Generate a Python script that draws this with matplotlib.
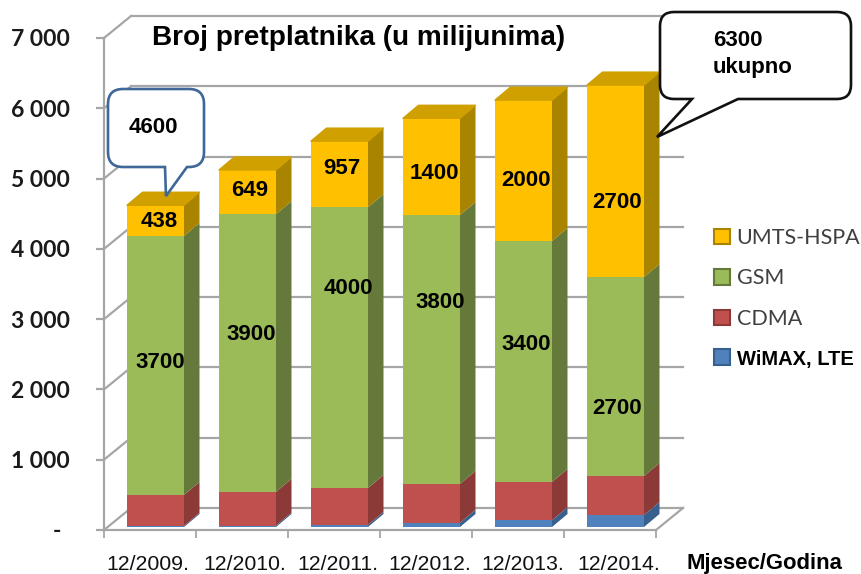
import numpy as np
import matplotlib
matplotlib.use("Agg")
import matplotlib.pyplot as plt
from matplotlib.patches import PathPatch, Patch
from matplotlib.path import Path

W, H = 861, 574

months = ["12/2009.", "12/2010.", "12/2011.", "12/2012.", "12/2013.", "12/2014."]
wimax = np.array([15, 20, 30, 60, 95, 170])
cdma = np.array([440, 480, 525, 552, 545, 555])
gsm = np.array([3685, 3950, 3995, 3826, 3428, 2831])
umts = np.array([438, 630, 940, 1377, 2006, 2731])

gsm_labels = ["3700", "3900", "4000", "3800", "3400", "2700"]
umts_labels = ["438", "649", "957", "1400", "2000", "2700"]
y_ticks = [0, 1000, 2000, 3000, 4000, 5000, 6000, 7000]
y_labels = ["-", "1 000", "2 000", "3 000", "4 000", "5 000", "6 000", "7 000"]

# series: front, side, top
colors = [
    ("#4F81BD", "#38608F", "#5F8FC8"),
    ("#C0504D", "#8C3A38", "#C0504D"),
    ("#9BBB59", "#64793A", "#9BBB59"),
    ("#FFC000", "#A98400", "#CFA000"),
]

# depth of the fake 3d, in data units
wall_dx, wall_dy = 27 / 92, 22 / 70.3 * 1000
bar_dx, bar_dy = 15.5 / 92, 13 / 70.3 * 1000
bar_w = 57 / 92
bar_in_x, bar_in_y = 0.25, 3 / 70.3 * 1000
grid_col = "#A6A6A6"

fig = plt.figure(figsize=(W / 100, H / 100), dpi=100)
ax = fig.add_axes([104 / W, (H - 530) / H, 552 / W, 492 / H])
ax.set_xlim(-0.5, 5.5)
ax.set_ylim(0, 7000)
ax.patch.set_alpha(0)


def px(x, y):
    return x / W, 1 - y / H


# walls
for v in y_ticks:
    ax.plot([-0.5, -0.5 + wall_dx], [v, v + wall_dy], color=grid_col, lw=1.6, clip_on=False, zorder=1)
    ax.plot([-0.5 + wall_dx, 5.5 + wall_dx], [v + wall_dy, v + wall_dy], color=grid_col, lw=1.6, clip_on=False, zorder=1)
ax.plot([5.5, 5.5 + wall_dx], [0, wall_dy], color=grid_col, lw=1.6, clip_on=False, zorder=1)

# bars, bottom to top
z = 3
for i in range(len(months)):
    x0 = i - 0.5 + bar_in_x
    x1 = x0 + bar_w
    base = bar_in_y
    for vals, (front, side, top) in zip([wimax, cdma, gsm, umts], colors):
        h = vals[i]
        ax.fill([x1, x1 + bar_dx, x1 + bar_dx, x1], [base, base + bar_dy, base + h + bar_dy, base + h],
                color=side, lw=0, clip_on=False, zorder=z)
        ax.fill([x0, x1, x1, x0], [base, base, base + h, base + h], color=front, lw=0, clip_on=False, zorder=z)
        base += h
    ax.fill([x0, x1, x1 + bar_dx, x0 + bar_dx], [base, base, base + bar_dy, base + bar_dy],
            facecolor=colors[3][2], edgecolor=colors[3][2], lw=1, joinstyle="round", clip_on=False, zorder=z)
    z += 1

# axes
for s in ["top", "right"]:
    ax.spines[s].set_visible(False)
for s in ["left", "bottom"]:
    ax.spines[s].set_color(grid_col)
    ax.spines[s].set_linewidth(1.6)
    ax.spines[s].set_zorder(2)

ax.set_yticks(y_ticks)
ax.set_yticklabels(y_labels, fontfamily="Lato", fontweight="bold", fontsize=16.5, color="#1A1A1A")
ax.tick_params(axis="y", length=6, width=1.6, color=grid_col, pad=18.5)
ax.set_xticks(np.arange(-0.5, 6, 1), minor=True)
ax.tick_params(axis="x", which="minor", length=6, width=1.3, color=grid_col)
label_pos = [-0.02, 1.03, 2.04, 3.04, 4.05, 5.09]
ax.set_xticks(label_pos)
ax.set_xticklabels(months, fontfamily="Liberation Sans", fontsize=15.3, color="#111111")
ax.tick_params(axis="x", which="major", length=0, pad=18)

# the dash sits further left than the other labels
zero_lab = ax.get_yticklabels()[0]
zero_lab.set_x(-0.0235)
zero_lab.set_ha("center")

fig.text(*px(152, 38), "Broj pretplatnika (u milijunima)", fontfamily="Liberation Sans", fontweight="bold",
         fontsize=20.2, va="center", ha="left", color="black")
fig.text(*px(686, 563), "Mjesec/Godina", fontfamily="Liberation Sans", fontweight="bold", fontsize=15.9,
         va="center", ha="left", color="black")

# value labels
gsm_xy = [(160, 362), (251, 334), (348, 288), (440, 302), (526, 345), (617, 408)]
umts_xy = [(159, 221), (250, 191), (342, 168), (434, 173), (526, 180), (617, 202)]
for lab, xy in zip(gsm_labels + umts_labels, gsm_xy + umts_xy):
    fig.text(*px(*xy), lab, fontfamily="Liberation Sans", fontweight="bold", fontsize=16,
             ha="center", va="center", color="black", zorder=20)


def callout(x0, y0, x1, y1, r, tail, color):
    a, tip, b = tail
    k = Path.CURVE3
    verts = [(x0 + r, y0), (x1 - r, y0), (x1, y0), (x1, y0 + r), (x1, y1 - r), (x1, y1), (x1 - r, y1),
             b, tip, a, (x0 + r, y1), (x0, y1), (x0, y1 - r), (x0, y0 + r), (x0, y0), (x0 + r, y0), (x0 + r, y0)]
    codes = [Path.MOVETO, Path.LINETO, k, k, Path.LINETO, k, k, Path.LINETO, Path.LINETO, Path.LINETO,
             Path.LINETO, k, k, Path.LINETO, k, k, Path.CLOSEPOLY]
    patch = PathPatch(Path([px(*v) for v in verts], codes), transform=fig.transFigure, facecolor="white",
                      edgecolor=color, lw=1.9, zorder=15, joinstyle="miter")
    fig.add_artist(patch)


callout(108, 89, 204, 167, 15, [(165, 167), (166, 196), (187, 167)], "#3F6797")
callout(660, 12, 851, 99, 14, [(692, 99), (657, 137), (738, 99)], "#111111")
fig.text(*px(153, 128), "4600", fontfamily="Liberation Sans", fontweight="bold", fontsize=16,
         ha="center", va="center", zorder=20)
fig.text(*px(713, 41), "6300", fontfamily="Liberation Sans", fontweight="bold", fontsize=16,
         ha="left", va="center", zorder=20)
fig.text(*px(713, 67), "ukupno", fontfamily="Liberation Sans", fontweight="bold", fontsize=16,
         ha="left", va="center", zorder=20)

# legend
legend_names = ["UMTS-HSPA", "GSM", "CDMA", "WiMAX, LTE"]
handles = [Patch(facecolor=c[0], edgecolor=c[1], lw=1.5) for c in colors[::-1]]
leg = fig.legend(handles, legend_names, loc="upper left", bbox_to_anchor=px(714, 228), frameon=False,
                 prop={"family": "Lato", "size": 15.5}, handlelength=0.75, handleheight=0.75,
                 handletextpad=0.3, labelspacing=0.95, borderpad=0, borderaxespad=0)
for t in leg.get_texts():
    t.set_color("#404040")
wl = leg.get_texts()[3]
wl.set_fontfamily("Liberation Sans")
wl.set_fontweight("bold")
wl.set_fontsize(14.5)
wl.set_color("black")

fig.savefig("out.png", dpi=100)
